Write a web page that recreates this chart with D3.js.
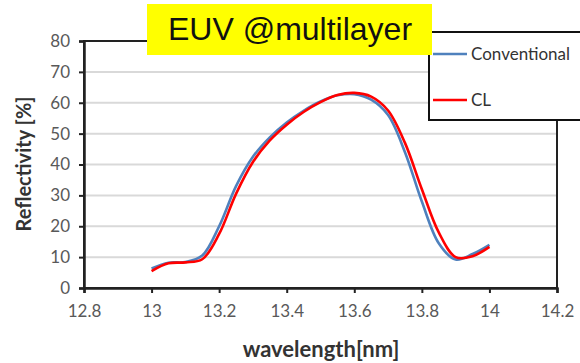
<!DOCTYPE html>
<html>
<head>
<meta charset="utf-8">
<script src="https://cdn.jsdelivr.net/npm/d3@7"></script>
<style>
  body { margin: 0; background: #fff; }
  svg { display: block; font-family: Lato, "Open Sans", sans-serif; }
</style>
</head>
<body>
<div class="chart"></div>
<script>
// wavelength samples [nm]
const wavelengths = [13.00, 13.05, 13.10, 13.15, 13.20, 13.25, 13.30, 13.35, 13.40, 13.45, 13.50,
  13.55, 13.60, 13.65, 13.70, 13.75, 13.80, 13.85, 13.90, 13.95, 14.00];
// reflectivity [%]
const conventional = [6.3, 8.2, 8.4, 10.5, 20, 33, 42.5, 48.8, 53.6, 57.4, 60.4,
  62.4, 62.8, 61, 56, 44, 28, 14.5, 9.2, 11, 14];
const cl = [5.5, 8, 8.3, 9.3, 17.5, 30.5, 40.8, 47.8, 52.9, 57, 60.2,
  62.5, 63.2, 62, 57.5, 47, 32, 18, 10, 10.3, 13.3];
const xTicks = [12.8, 13, 13.2, 13.4, 13.6, 13.8, 14, 14.2];
const yTicks = [0, 10, 20, 30, 40, 50, 60, 70, 80];
const seriesNames = ["Conventional", "CL"];
const seriesColors = ["#4f81bd", "#ff0000"];

const width = 580, height = 363;
const svg = d3.select('.chart').append('svg')
  .attr('width', width)
  .attr('height', height);

const x = d3.scaleLinear().domain([12.8, 14.2]).range([84, 557]);
const y = d3.scaleLinear().domain([0, 80]).range([288, 41]);

// gridlines
svg.append('g')
  .selectAll('line')
  .data(yTicks.slice(1, -1))
  .enter()
  .append('line')
    .attr('x1', x(12.8))
    .attr('x2', x(14.2))
    .attr('y1', d => y(d))
    .attr('y2', d => y(d))
    .attr('stroke', '#d9d9d9')
    .attr('stroke-width', 2);

// plot border
svg.append('rect')
  .attr('x', x(12.8))
  .attr('y', y(80))
  .attr('width', x(14.2) - x(12.8))
  .attr('height', y(0) - y(80))
  .attr('fill', 'none')
  .attr('stroke', '#222')
  .attr('stroke-width', 2);

// y axis
const yAxis = d3.axisLeft(y).tickValues(yTicks).tickSize(5).tickPadding(9);
const gy = svg.append('g')
  .attr('transform', `translate(${x(12.8)},0)`)
  .call(yAxis);
gy.select('.domain').attr('stroke', '#222').attr('stroke-width', 2.5);
gy.selectAll('.tick line').attr('stroke', '#222').attr('stroke-width', 2);
gy.selectAll('.tick text')
  .attr('fill', '#595959')
  .style('font-family', 'Lato, sans-serif')
  .style('font-size', '17px');

// x axis
const xAxis = d3.axisBottom(x).tickValues(xTicks).tickSize(5).tickPadding(12)
  .tickFormat(d3.format('~g'));
const gx = svg.append('g')
  .attr('transform', `translate(0,${y(0)})`)
  .call(xAxis);
gx.select('.domain').attr('stroke', '#222').attr('stroke-width', 2.5);
gx.selectAll('.tick line').attr('stroke', '#222').attr('stroke-width', 2);
gx.selectAll('.tick text')
  .attr('fill', '#595959')
  .style('font-family', 'Lato, sans-serif')
  .style('font-size', '17px');

// axis titles
svg.append('text')
  .attr('transform', 'translate(31,164)rotate(-90)')
  .attr('text-anchor', 'middle')
  .style('font-size', '20px')
  .style('font-weight', 'bold')
  .attr('fill', '#333')
  .text('Reflectivity [%]');

svg.append('text')
  .attr('x', 321)
  .attr('y', 357)
  .attr('text-anchor', 'middle')
  .style('font-size', '22px')
  .style('font-weight', 'bold')
  .attr('fill', '#333')
  .text('wavelength[nm]');

// curves
const line = d3.line()
  .x((d, i) => x(wavelengths[i]))
  .y(d => y(d))
  .curve(d3.curveCatmullRom.alpha(0.5));

[conventional, cl].forEach((vals, k) => {
  svg.append('path')
    .datum(vals)
    .attr('d', line)
    .attr('fill', 'none')
    .attr('stroke', seriesColors[k])
    .attr('stroke-width', 2.6)
    .attr('stroke-linejoin', 'round');
});

// legend box
svg.append('rect')
  .attr('x', 429)
  .attr('y', 32)
  .attr('width', 170)
  .attr('height', 88)
  .attr('fill', '#fff')
  .attr('stroke', '#111')
  .attr('stroke-width', 2);

const legend = svg.append('g')
  .selectAll('g')
  .data(seriesNames)
  .enter()
  .append('g')
    .attr('transform', (d, i) => `translate(433,${54 + i * 46})`);
legend.append('line')
  .attr('x1', 0).attr('x2', 34)
  .attr('stroke', (d, i) => seriesColors[i])
  .attr('stroke-width', 2.5);
legend.append('text')
  .attr('x', 38)
  .attr('y', 6)
  .style('font-size', '17px')
  .attr('fill', '#333')
  .text(d => d);

// title box
svg.append('rect')
  .attr('x', 147)
  .attr('y', 4)
  .attr('width', 285)
  .attr('height', 51)
  .attr('fill', '#ffff00');
svg.append('text')
  .attr('x', 290)
  .attr('y', 40)
  .attr('text-anchor', 'middle')
  .style('font-family', '"Liberation Sans", Arial, sans-serif')
  .style('font-size', '32px')
  .attr('fill', '#111')
  .text('EUV @multilayer');
</script>
</body>
</html>
